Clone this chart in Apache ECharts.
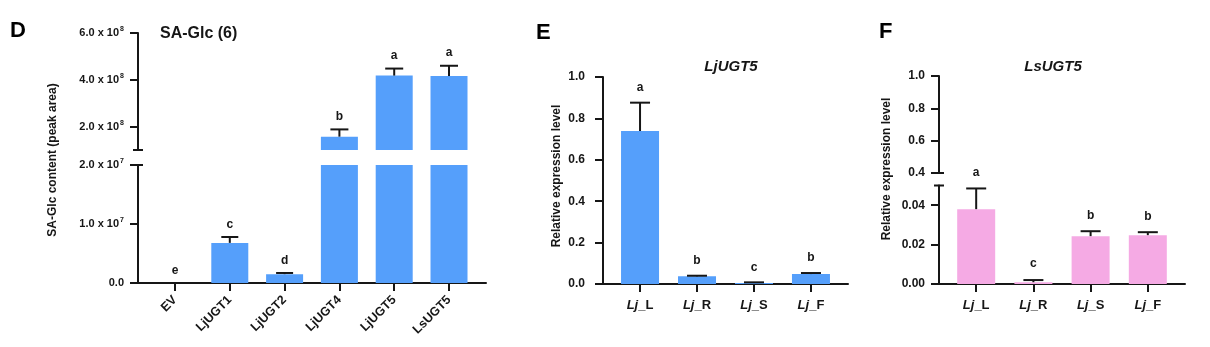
<!DOCTYPE html>
<html><head><meta charset="utf-8">
<script src="https://cdn.jsdelivr.net/npm/echarts@6/dist/echarts.min.js"></script>
<style>html,body{margin:0;padding:0;background:#fff}#c{width:1210px;height:347px}</style>
</head><body><div id="c"></div>
<script>
// ---------- Panel D : SA-Glc (6) ----------
const dCategories = ['EV', 'LjUGT1', 'LjUGT2', 'LjUGT4', 'LjUGT5', 'LsUGT5'];
const dMeans      = [0, 6.8e6, 1.5e6, 1.57e8, 4.18e8, 4.16e8];
const dErrTops    = [0, 7.8e6, 1.7e6, 1.88e8, 4.48e8, 4.60e8];
const dLetters    = ['e', 'c', 'd', 'b', 'a', 'a'];
const dUpperTicks = [2e8, 4e8, 6e8];
const dLowerTicks = [0, 1e7, 2e7];
// ---------- Panel E : LjUGT5 ----------
const eCategories = ['Lj_L', 'Lj_R', 'Lj_S', 'Lj_F'];
const eMeans      = [0.739, 0.037, 0.005, 0.048];
const eErrTops    = [0.876, 0.040, 0.008, 0.053];
const eLetters    = ['a', 'b', 'c', 'b'];
const eTicks      = [0, 0.2, 0.4, 0.6, 0.8, 1.0];
// ---------- Panel F : LsUGT5 ----------
const fCategories = ['Lj_L', 'Lj_R', 'Lj_S', 'Lj_F'];
const fMeans      = [0.038, 0.0009, 0.0243, 0.0248];
const fErrTops    = [0.0485, 0.002, 0.0268, 0.0263];
const fLetters    = ['a', 'c', 'b', 'b'];
const fUpperTicks = [0.4, 0.6, 0.8, 1.0];
const fLowerTicks = [0, 0.02, 0.04];

const FF = '"Liberation Sans", Arial, Helvetica, sans-serif';
const INK = '#161616';
const BLUE = '#559ffb';
const PINK = '#f5aae4';

const chart = echarts.init(document.getElementById('c'), null, {renderer: 'canvas'});

function idx(n) { return Array.from({length: n}, (_, i) => i); }
function pairs(arr) { return arr.map((v, i) => [i, v]); }

function sciFmt(v) {
  if (v === 0) return '{n|0.0}';
  const e = Math.floor(Math.log10(v) + 1e-9);
  const m = v / Math.pow(10, e);
  return '{n|' + m.toFixed(1) + ' x 10}{s|' + e + '}';
}
const sciRich = {
  n: {fontSize: 11, fontWeight: 'bold', fontFamily: FF, color: INK, lineHeight: 14, verticalAlign: 'middle'},
  s: {fontSize: 7, fontWeight: 'bold', fontFamily: FF, color: INK, lineHeight: 14, verticalAlign: 'top', padding: [0, 0, 0, 1]}
};
const catRich = {
  i: {fontSize: 13, fontWeight: 'bold', fontStyle: 'italic', fontFamily: FF, color: INK},
  n: {fontSize: 13, fontWeight: 'bold', fontFamily: FF, color: INK}
};
function catFmt(cats) {
  return v => { const c = cats[Math.round(v)] || ''; const p = c.split('_'); return '{i|' + p[0] + '}{n|_' + p[1] + '}'; };
}

function yAx(gi, min, max, ticks, fmt, rich, margin, fs) {
  return {
    type: 'value', gridIndex: gi, min: min, max: max,
    axisLine: {show: true, onZero: false, lineStyle: {color: INK, width: 2}},
    axisTick: {show: true, length: 8, customValues: ticks, lineStyle: {color: INK, width: 2}},
    axisLabel: {show: true, customValues: ticks, formatter: fmt, rich: rich, margin: margin,
      color: INK, fontWeight: 'bold', fontSize: fs, fontFamily: FF},
    splitLine: {show: false}
  };
}
function xAx(gi, n, off, show, fmt, rich, rotate, margin, fs) {
  const t = idx(n);
  return {
    type: 'value', gridIndex: gi, min: -off, max: n - 1 + off, position: 'bottom', show: show,
    axisLine: {show: true, onZero: false, lineStyle: {color: INK, width: 2}},
    axisTick: {show: true, length: 8, customValues: t, lineStyle: {color: INK, width: 2}},
    axisLabel: {show: true, customValues: t, formatter: fmt, rich: rich, rotate: rotate, margin: margin,
      color: INK, fontWeight: 'bold', fontSize: fs, fontFamily: FF},
    splitLine: {show: false}
  };
}

function errSeries(gi, means, tops, letters, capW, off, lo, hi) {
  return {
    type: 'custom', xAxisIndex: gi, yAxisIndex: gi, z: 5, silent: true,
    data: means.map((m, i) => [i, m, tops[i]]),
    renderItem: function (params, api) {
      const i = params.dataIndex;
      const x = api.value(0), m = api.value(1), t = api.value(2);
      const ch = [];
      if (t >= lo && t <= hi) {
        const p1 = api.coord([x, t]);
        if (t > m) {
          const p0 = api.coord([x, Math.max(m, lo)]);
          ch.push({type: 'line', shape: {x1: p0[0], y1: p0[1], x2: p1[0], y2: p1[1]}, style: {stroke: INK, lineWidth: 2}});
          ch.push({type: 'line', shape: {x1: p1[0] - capW / 2, y1: p1[1], x2: p1[0] + capW / 2, y2: p1[1]}, style: {stroke: INK, lineWidth: 2}});
        }
        ch.push({type: 'text', x: p1[0], y: p1[1] - off,
          style: {text: letters[i], fill: INK, font: 'bold 12px ' + FF, align: 'center', verticalAlign: 'middle'}});
      }
      return {type: 'group', children: ch};
    }
  };
}
// break caps at a grid edge (top or bottom) of the y axis
function capSeries(gi, atTop) {
  return {
    type: 'custom', xAxisIndex: gi, yAxisIndex: gi, z: 6, silent: true,
    data: [[0, 0]],
    renderItem: function (params, api) {
      const cs = params.coordSys;
      const y = atTop ? cs.y : cs.y + cs.height;
      return {type: 'line', shape: {x1: cs.x - 5, y1: y, x2: cs.x + 5, y2: y}, style: {stroke: INK, lineWidth: 2}};
    }
  };
}
function barSeries(gi, means, color, w) {
  return {
    type: 'bar', xAxisIndex: gi, yAxisIndex: gi, barWidth: w, clip: true, silent: true,
    data: pairs(means),
    itemStyle: {color: color, borderWidth: 0}
  };
}

const D_OFF = 0.675, EF_OFF = 0.65;

const option = {
  animation: false,
  backgroundColor: '#fff',
  grid: [
    {left: 138, width: 348, top: 33, height: 117, outerBoundsMode: 'none'},   // 0 D upper
    {left: 138, width: 348, top: 165, height: 118, outerBoundsMode: 'none'},  // 1 D lower
    {left: 603, width: 245, top: 77, height: 207, outerBoundsMode: 'none'},   // 2 E
    {left: 939, width: 246, top: 76, height: 97, outerBoundsMode: 'none'},    // 3 F upper
    {left: 939, width: 246, top: 185.5, height: 98.5, outerBoundsMode: 'none'} // 4 F lower
  ],
  xAxis: [
    xAx(0, dCategories.length, D_OFF, false, null, null, 0, 10, 12),
    xAx(1, dCategories.length, D_OFF, true, v => dCategories[Math.round(v)] || '', null, 45, 15, 12.5),
    xAx(2, eCategories.length, EF_OFF, true, catFmt(eCategories), catRich, 0, 15, 13),
    xAx(3, fCategories.length, EF_OFF, false, null, null, 0, 10, 12),
    xAx(4, fCategories.length, EF_OFF, true, catFmt(fCategories), catRich, 0, 15, 13)
  ],
  yAxis: [
    yAx(0, 1e8, 6e8, dUpperTicks, sciFmt, sciRich, 14, 11),
    yAx(1, 0, 2e7, dLowerTicks, sciFmt, sciRich, 14, 11),
    yAx(2, 0, 1.0, eTicks, v => v.toFixed(1), null, 18, 12),
    yAx(3, 0.4, 1.0, fUpperTicks, v => v.toFixed(1), null, 14, 12),
    yAx(4, 0, 0.05, fLowerTicks, v => v.toFixed(2), null, 14, 12)
  ],
  series: [
    barSeries(0, dMeans, BLUE, 37),
    barSeries(1, dMeans, BLUE, 37),
    barSeries(2, eMeans, BLUE, 38),
    barSeries(3, fMeans, PINK, 38),
    barSeries(4, fMeans, PINK, 38),
    errSeries(0, dMeans, dErrTops, dLetters, 18, 13, 1e8, 6e8),
    errSeries(1, dMeans, dErrTops, dLetters, 17, 12, 0, 2e7),
    errSeries(2, eMeans, eErrTops, eLetters, 20, 15, 0, 1.0),
    errSeries(3, fMeans, fErrTops, fLetters, 20, 16, 0.4, 1.0),
    errSeries(4, fMeans, fErrTops, fLetters, 20, 16, 0, 0.05),
    capSeries(0, false), capSeries(1, true), capSeries(3, false), capSeries(4, true)
  ],
  graphic: [
    {type: 'text', x: 10, y: 31, style: {text: 'D', font: 'bold 22px ' + FF, fill: '#000', align: 'left', verticalAlign: 'middle'}},
    {type: 'text', x: 536, y: 33, style: {text: 'E', font: 'bold 22px ' + FF, fill: '#000', align: 'left', verticalAlign: 'middle'}},
    {type: 'text', x: 879, y: 32, style: {text: 'F', font: 'bold 22px ' + FF, fill: '#000', align: 'left', verticalAlign: 'middle'}},
    {type: 'text', x: 160, y: 34, style: {text: 'SA-Glc (6)', font: 'bold 16px ' + FF, fill: INK, align: 'left', verticalAlign: 'middle'}},
    {type: 'text', x: 731, y: 67, style: {text: 'LjUGT5', font: 'italic bold 15px ' + FF, fill: INK, align: 'center', verticalAlign: 'middle'}},
    {type: 'text', x: 1053, y: 67, style: {text: 'LsUGT5', font: 'italic bold 15px ' + FF, fill: INK, align: 'center', verticalAlign: 'middle'}},
    {type: 'text', x: 53, y: 160, rotation: Math.PI / 2, style: {text: 'SA-Glc content (peak area)', font: 'bold 12px ' + FF, fill: INK, align: 'center', verticalAlign: 'middle'}},
    {type: 'text', x: 557, y: 176, rotation: Math.PI / 2, style: {text: 'Relative expression level', font: 'bold 12px ' + FF, fill: INK, align: 'center', verticalAlign: 'middle'}},
    {type: 'text', x: 887, y: 169, rotation: Math.PI / 2, style: {text: 'Relative expression level', font: 'bold 12px ' + FF, fill: INK, align: 'center', verticalAlign: 'middle'}}
  ]
};
chart.setOption(option);
</script>
</body></html>
